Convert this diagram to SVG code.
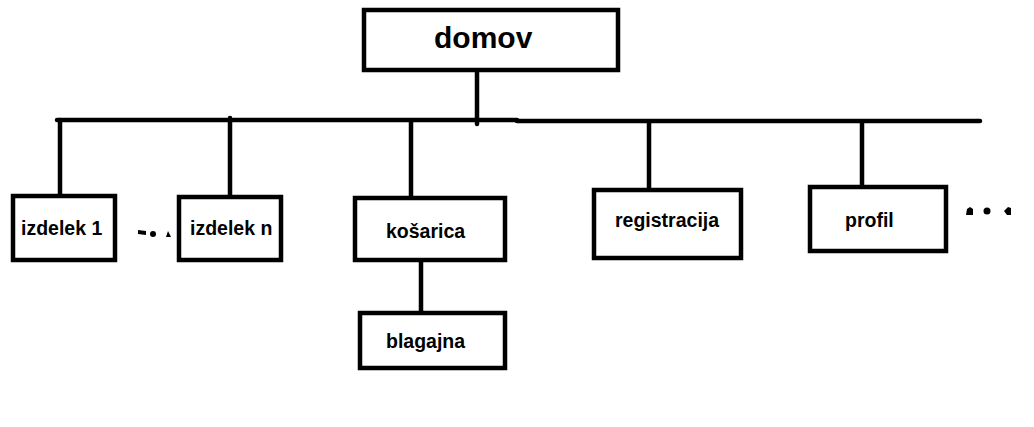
<svg xmlns="http://www.w3.org/2000/svg" width="1034" height="427" viewBox="0 0 1034 427">
<style>
.box{fill:#fff;stroke:#000;stroke-width:4.5}
.ln{stroke:#000;stroke-width:4.5;fill:none;stroke-linecap:round}
.t{font-family:"Liberation Sans",Arial,sans-serif;font-weight:bold;font-size:19.5px;fill:#000}
.big{font-size:30px}
.dot{fill:#000}
</style>
<rect width="1034" height="427" fill="#fff"/>
<g id="connectors">
<path class="ln" d="M477 72V124"/>
<path class="ln" d="M57 120H517"/>
<path class="ln" d="M517 121H980"/>
<path class="ln" d="M60 120V195"/>
<path class="ln" d="M230 118V195"/>
<path class="ln" d="M411 121V196"/>
<path class="ln" d="M421 262V314"/>
<path class="ln" d="M649 122V188"/>
<path class="ln" d="M862 122V185"/>
</g>
<g id="domov"><rect class="box" x="364" y="10" width="254" height="60"/><text class="t big" x="434" y="48">domov</text></g>
<g id="izdelek1"><rect class="box" x="13" y="196" width="102" height="64"/><text class="t" x="21" y="235">izdelek 1</text></g>
<g id="dots-left"><path class="dot" d="M138 230l8 1 0 4-8-1z"/><circle class="dot" cx="153" cy="234" r="3"/><path class="dot" d="M166 237l2-6 3 6z"/></g>
<g id="izdelekn"><rect class="box" x="179" y="197" width="102" height="63"/><text class="t" x="190" y="235">izdelek n</text></g>
<g id="kosarica"><rect class="box" x="355" y="198" width="150" height="62"/><text class="t" x="386" y="238">košarica</text></g>
<g id="blagajna"><rect class="box" x="360" y="313" width="145" height="55"/><text class="t" x="386" y="348">blagajna</text></g>
<g id="registracija"><rect class="box" x="594" y="190" width="147" height="68"/><text class="t" x="615" y="227">registracija</text></g>
<g id="profil"><rect class="box" x="810" y="187" width="136" height="64"/><text class="t" x="845" y="227">profil</text></g>
<g id="dots-right"><path class="dot" d="M966 215l1-6 3-2 3 2 0 6z"/><circle class="dot" cx="987" cy="211" r="3.5"/><path class="dot" d="M1004 211l4-4 3 1 0 7-4 0z"/></g>
</svg>
